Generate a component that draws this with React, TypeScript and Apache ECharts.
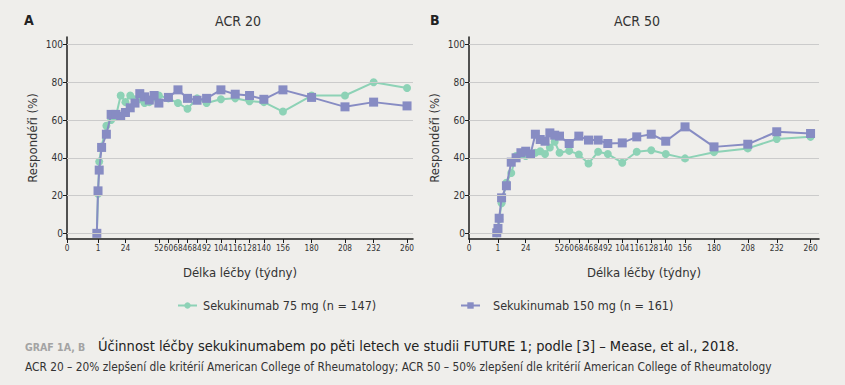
import { useEffect, useRef } from "react";
import * as echarts from "echarts";

const weeks = [0, 1, 2, 4, 8, 12, 16, 20, 24, 28, 32, 36, 40, 44, 48, 52, 60, 68, 76, 84, 92, 104, 116, 128, 140, 156, 180, 208, 232, 260];

const acr20_75 = [0, 21, 38, 46, 57, 60, 62, 73, 69.5, 73, 71, 71, 69, 69.5, 72, 73, 71.5, 69, 66, 71.5, 69, 71, 71.5, 70, 69.5, 64.5, 73, 73, 80, 77];
const acr20_150 = [0, 22.5, 33.5, 45.5, 52.5, 63, 63, 62, 64, 66.5, 69, 74, 72.3, 70.6, 73, 69, 72, 76, 71.5, 70.5, 71.5, 76, 73.7, 73, 71, 76, 72, 67, 69.5, 67.5];
const acr50_75 = [0, 2, 7.4, 15.9, 26.8, 32, 41, 42, 41, 42, 42.7, 43.5, 42, 45.5, 48.5, 42.7, 43.7, 41.8, 37, 43.2, 42, 37.4, 43.2, 44, 42, 39.7, 43, 45, 50, 51.1];
const acr50_150 = [0.3, 2.6, 8, 18.8, 25.2, 37.7, 40, 42.7, 43.5, 42, 52.5, 49.7, 48.8, 53.2, 52, 51.5, 47.6, 51.5, 49.4, 49.4, 47.6, 47.9, 51.1, 52.5, 48.8, 56.4, 45.8, 47.2, 53.8, 52.9];

const xTickValues = [1, 24, 52, 60, 68, 76, 84, 92, 104, 116, 128, 140, 156, 180, 208, 232, 260];
const xTickLabels = ["1", "24", "52", "60", "68", "46", "84", "92", "104", "116", "128", "140", "156", "180", "208", "232", "260"];
const yTickValues = [0, 20, 40, 60, 80, 100];

const seriesNames = ["Sekukinumab 75 mg (n = 147)", "Sekukinumab 150 mg (n = 161)"];
const panelTitles = ["ACR 20", "ACR 50"];
const panelLetters = ["A", "B"];
const xAxisName = "Délka léčby (týdny)";
const yAxisName = "Respondéři (%)";
const captionLabel = "GRAF 1A, B";
const captionTitle = "Účinnost léčby sekukinumabem po pěti letech ve studii FUTURE 1; podle [3] – Mease, et al., 2018.";
const captionNote = "ACR 20 – 20% zlepšení dle kritérií American College of Rheumatology; ACR 50 – 50% zlepšení dle kritérií American College of Rheumatology";

const GREEN = "#8dd2b6";
const BLUE = "#878cc3";
const BG = "#efeeeb";
const FONT = "'Liberation Sans Narrow', 'DejaVu Sans Condensed', 'Noto Sans', sans-serif";

const zip = (xs: number[], ys: number[]) => xs.map((x, i) => [x, ys[i]]);

export default function App() {
  const ref = useRef<HTMLDivElement>(null);

  useEffect(() => {
    document.body.style.margin = "0";
    const chart = echarts.init(ref.current!, null, { renderer: "svg" });

    const panels = [
      { left: 67, width: 346, min: -25, max: 265, d75: acr20_75, d150: acr20_150 },
      { left: 469, width: 350, min: -23, max: 267, d75: acr50_75, d150: acr50_150 },
    ];

    const grids = panels.map((p) => ({ left: p.left, width: p.width, top: 37, height: 202 }));

    const xAxes = panels.map((p, i) => {
      const vals = [p.min, ...xTickValues];
      return {
        type: "value",
        gridIndex: i,
        min: p.min,
        max: p.max,
        axisLine: { show: true, onZero: false, lineStyle: { color: "#1c1c1c", width: 1.5 } },
        axisTick: { show: true, customValues: vals, length: 4, lineStyle: { color: "#1c1c1c", width: 1 } },
        axisLabel: {
          customValues: vals,
          formatter: (v: number) => {
            if (Math.abs(v - p.min) < 0.01) return "0";
            const k = xTickValues.indexOf(Math.round(v));
            return k >= 0 ? xTickLabels[k] : "";
          },
          fontSize: 8.2,
          color: "#333",
          margin: 5,
          fontFamily: FONT,
        },
        splitLine: { show: false },
        name: xAxisName,
        nameLocation: "middle",
        nameGap: 27,
        nameTextStyle: { fontSize: 13, color: "#333", fontFamily: FONT },
      };
    });

    const yAxes = panels.map((p, i) => ({
      type: "value",
      gridIndex: i,
      min: -3,
      max: 104,
      axisLine: { show: true, onZero: false, lineStyle: { color: "#1c1c1c", width: 1.5 } },
      axisTick: { show: true, customValues: yTickValues, length: 4, lineStyle: { color: "#1c1c1c", width: 1 } },
      axisLabel: { customValues: yTickValues, fontSize: 10, color: "#333", margin: 4, fontFamily: FONT },
      splitLine: { show: false },
      name: yAxisName,
      nameLocation: "middle",
      nameGap: 28,
      nameRotate: 90,
      nameTextStyle: { fontSize: 13, color: "#333", fontFamily: FONT },
    }));

    const series: any[] = [];
    panels.forEach((p, i) => {
      series.push({
        type: "line",
        xAxisIndex: i,
        yAxisIndex: i,
        data: [[0, 0]],
        symbol: "none",
        lineStyle: { opacity: 0 },
        silent: true,
        z: 1,
        markLine: {
          silent: true,
          symbol: ["none", "none"],
          label: { show: false },
          lineStyle: { color: "#cbcbcb", type: "solid", width: 1 },
          data: yTickValues.map((v) => ({ yAxis: v })),
        },
      });
      series.push({
        name: seriesNames[0],
        type: "line",
        xAxisIndex: i,
        yAxisIndex: i,
        data: zip(weeks, p.d75),
        symbol: "circle",
        symbolSize: 8,
        lineStyle: { color: GREEN, width: 2 },
        itemStyle: { color: GREEN },
        z: 2,
      });
      series.push({
        name: seriesNames[1],
        type: "line",
        xAxisIndex: i,
        yAxisIndex: i,
        data: zip(weeks, p.d150),
        symbol: "rect",
        symbolSize: 9,
        lineStyle: { color: BLUE, width: 2 },
        itemStyle: { color: BLUE },
        z: 3,
      });
    });

    const legendText = { fontSize: 12.5, color: "#333", fontFamily: FONT };

    chart.setOption({
      animation: false,
      backgroundColor: BG,
      grid: grids,
      xAxis: xAxes,
      yAxis: yAxes,
      series,
      legend: [
        {
          data: [seriesNames[0]],
          left: 172,
          top: 294,
          itemWidth: 19,
          itemHeight: 8,
          textStyle: { ...legendText, padding: [0, 0, 0, 1] },
          selectedMode: false,
        },
        {
          data: [seriesNames[1]],
          left: 455,
          top: 294,
          itemWidth: 19,
          itemHeight: 8,
          textStyle: { ...legendText, padding: [0, 0, 0, 8] },
          selectedMode: false,
        },
      ],
      graphic: [
        { type: "text", left: 24, top: 13, style: { text: panelLetters[0], fontSize: 14, fontWeight: "bold", fill: "#222", fontFamily: FONT } },
        { type: "text", left: 430, top: 13, style: { text: panelLetters[1], fontSize: 14, fontWeight: "bold", fill: "#222", fontFamily: FONT } },
        { type: "text", x: 238, y: 21, style: { text: panelTitles[0], fontSize: 14, fill: "#333", align: "center", verticalAlign: "middle", fontFamily: FONT } },
        { type: "text", x: 637, y: 21, style: { text: panelTitles[1], fontSize: 14, fill: "#333", align: "center", verticalAlign: "middle", fontFamily: FONT } },
        { type: "text", x: 25, y: 347, style: { text: captionLabel, fontSize: 10.5, fontWeight: "bold", fill: "#a3a3a3", verticalAlign: "middle", fontFamily: FONT } },
        { type: "text", x: 98, y: 346, style: { text: captionTitle, fontSize: 14.5, fill: "#222", verticalAlign: "middle", fontFamily: FONT } },
        { type: "text", x: 25, y: 367, style: { text: captionNote, fontSize: 11.8, fill: "#333", verticalAlign: "middle", fontFamily: FONT } },
      ],
    });

    return () => chart.dispose();
  }, []);

  return <div ref={ref} style={{ width: 845, height: 385, background: BG }} />;
}
